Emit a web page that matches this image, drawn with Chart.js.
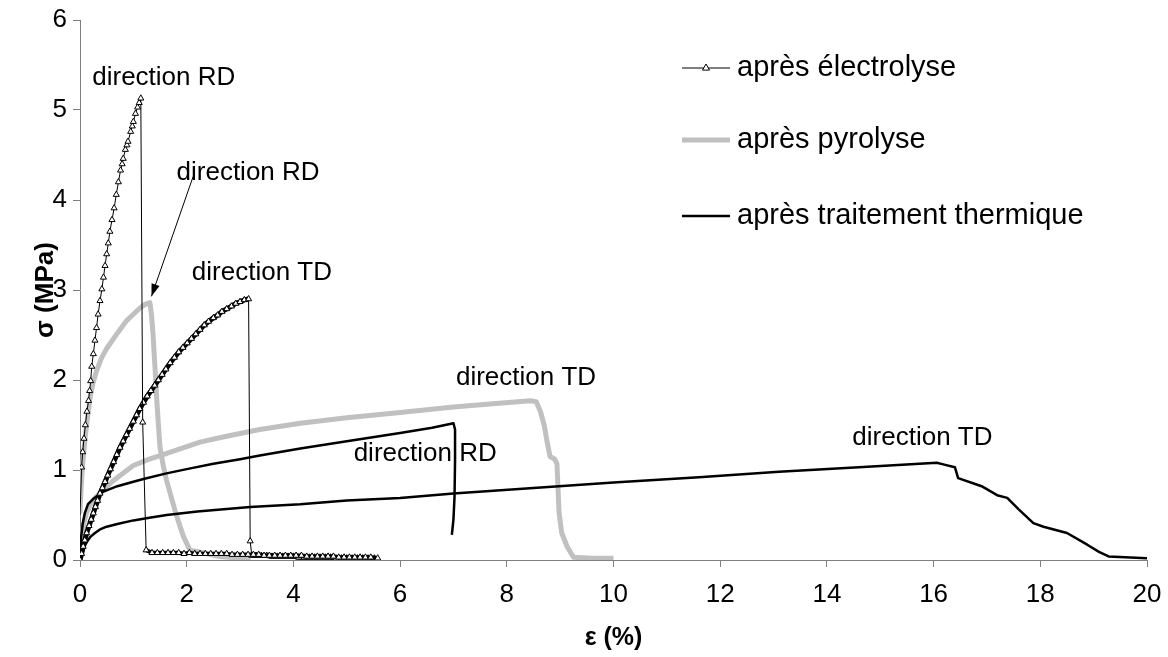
<!DOCTYPE html>
<html>
<head>
<meta charset="utf-8">
<script src="https://cdn.jsdelivr.net/npm/chart.js@4.4.1/dist/chart.umd.min.js"></script>
<style>
  html, body { margin: 0; padding: 0; background: #ffffff; }
  #wrap { position: relative; width: 1168px; height: 657px; }
</style>
</head>
<body>
<div id="wrap"><canvas id="c"></canvas></div>
<script>
// ---------- axis ticks ----------
const xTickValues = [0, 2, 4, 6, 8, 10, 12, 14, 16, 18, 20];
const yTickValues = [0, 1, 2, 3, 4, 5, 6];
const xTitle = 'ε (%)';
const yTitle = 'σ (MPa)';

// ---------- series labels ----------
const seriesNames = ['après électrolyse', 'après pyrolyse', 'après traitement thermique'];

// ---------- après électrolyse, direction RD (incl. post-rupture tail) ----------
const electroRD_x = [0, 0.03, 0.05, 0.075, 0.1, 0.13, 0.16, 0.18, 0.2, 0.22, 0.25, 0.28, 0.31, 0.34, 0.375, 0.41, 0.44, 0.47, 0.5, 0.53, 0.56, 0.6, 0.64, 0.68, 0.72, 0.76, 0.79, 0.81, 0.85, 0.88, 0.9, 0.95, 0.98, 1.0, 1.04, 1.08, 1.11, 1.14, 1.175, 1.24,
  1.35, 1.45, 1.55, 1.65, 1.75, 1.85, 1.95, 2.05, 2.15, 2.25, 2.35, 2.45, 2.55, 2.65, 2.75, 2.85, 2.95, 3.05, 3.15, 3.25, 3.35, 3.45, 3.55, 3.65, 3.75, 3.85, 3.95, 4.05, 4.15, 4.25, 4.35, 4.45, 4.55, 4.65, 4.75, 4.85, 4.95, 5.05, 5.15, 5.25, 5.35, 5.45, 5.58];
const electroRD_y = [0.5, 1.03, 1.2, 1.35, 1.5, 1.65, 1.77, 1.88, 1.99, 2.15, 2.29, 2.44, 2.58, 2.73, 2.88, 3.01, 3.14, 3.27, 3.4, 3.52, 3.65, 3.78, 3.91, 4.06, 4.2, 4.33, 4.4, 4.46, 4.56, 4.61, 4.65, 4.76, 4.82, 4.87, 4.96, 5.03, 5.08, 5.13, 1.53, 0.11,
  0.08, 0.08, 0.08, 0.08, 0.08, 0.08, 0.07, 0.08, 0.07, 0.07, 0.07, 0.07, 0.07, 0.07, 0.07, 0.06, 0.06, 0.06, 0.06, 0.06, 0.06, 0.05, 0.05, 0.05, 0.05, 0.05, 0.05, 0.05, 0.05, 0.04, 0.04, 0.04, 0.04, 0.04, 0.04, 0.03, 0.03, 0.03, 0.03, 0.03, 0.03, 0.03, 0.02];

// ---------- après électrolyse, direction TD ----------
const electroTD_x = [0, 0.03, 0.06, 0.09, 0.125, 0.17, 0.21, 0.25, 0.29, 0.33, 0.375, 0.42, 0.47, 0.52, 0.57, 0.63, 0.69, 0.75, 0.81, 0.87, 0.93, 1.0, 1.06, 1.12, 1.19, 1.26, 1.33, 1.4, 1.47, 1.54, 1.61, 1.69, 1.77, 1.85, 1.93, 2.01, 2.09, 2.17, 2.25, 2.33, 2.41, 2.5, 2.58, 2.66, 2.75, 2.84, 2.92, 3.0, 3.08, 3.16, 3.19, 3.22,
  3.3, 3.4, 3.5, 3.6, 3.7, 3.8, 3.9, 4.0, 4.1, 4.2, 4.3, 4.4, 4.5, 4.6, 4.7, 4.8, 4.9, 5.0, 5.1, 5.2, 5.3, 5.4, 5.52];
const electroTD_y = [0, 0.07, 0.15, 0.22, 0.3, 0.38, 0.45, 0.52, 0.59, 0.66, 0.74, 0.8, 0.87, 0.94, 1.01, 1.09, 1.17, 1.25, 1.32, 1.39, 1.46, 1.54, 1.61, 1.68, 1.75, 1.82, 1.88, 1.94, 2.0, 2.06, 2.12, 2.19, 2.25, 2.31, 2.36, 2.41, 2.46, 2.51, 2.56, 2.61, 2.65, 2.69, 2.72, 2.76, 2.79, 2.82, 2.85, 2.87, 2.89, 2.9, 0.21, 0.05,
  0.05, 0.05, 0.05, 0.04, 0.04, 0.04, 0.04, 0.04, 0.03, 0.03, 0.03, 0.03, 0.03, 0.03, 0.03, 0.02, 0.02, 0.02, 0.02, 0.02, 0.02, 0.02, 0.02];

// ---------- après pyrolyse, direction RD ----------
const pyroRD_x = [0, 0.02, 0.05, 0.1, 0.15, 0.19, 0.25, 0.31, 0.4, 0.5, 0.56, 0.7, 0.875, 1.0, 1.125, 1.22, 1.31, 1.34, 1.37, 1.39, 1.42, 1.44, 1.47, 1.5, 1.56, 1.62, 1.7, 1.78, 1.86, 1.94, 2.06, 2.3, 2.6, 3.0, 3.2];
const pyroRD_y = [0.52, 0.8, 1.07, 1.38, 1.62, 1.81, 1.98, 2.1, 2.24, 2.35, 2.4, 2.52, 2.66, 2.73, 2.8, 2.84, 2.86, 2.73, 2.5, 2.29, 2.0, 1.77, 1.5, 1.25, 1.05, 0.89, 0.72, 0.55, 0.4, 0.26, 0.11, 0.08, 0.04, 0.02, 0.02];

// ---------- après pyrolyse, direction TD ----------
const pyroTD_x = [0, 0.03, 0.07, 0.12, 0.2, 0.3, 0.44, 0.6, 0.8, 1.0, 1.3, 1.6, 2.0, 2.25, 2.7, 3.37, 4.13, 5.0, 6.0, 7.0, 7.8, 8.44, 8.55, 8.63, 8.7, 8.76, 8.81, 8.9, 8.94, 8.96, 8.98, 9.03, 9.13, 9.25, 9.6, 10.0];
const pyroTD_y = [0, 0.25, 0.4, 0.52, 0.62, 0.7, 0.78, 0.87, 0.96, 1.05, 1.12, 1.18, 1.26, 1.31, 1.37, 1.45, 1.52, 1.58, 1.64, 1.7, 1.74, 1.77, 1.76, 1.65, 1.5, 1.3, 1.15, 1.12, 1.07, 0.8, 0.52, 0.3, 0.15, 0.03, 0.02, 0.02];

// ---------- après traitement thermique, direction RD ----------
const thermRD_x = [0, 0.02, 0.05, 0.09, 0.15, 0.25, 0.44, 0.7, 1.0, 1.19, 1.6, 2.0, 2.5, 3.0, 3.37, 4.13, 5.0, 6.0, 6.6, 7.0, 7.03, 7.03, 7.02, 7.0, 6.97];
const thermRD_y = [0, 0.25, 0.4, 0.52, 0.62, 0.68, 0.76, 0.82, 0.87, 0.9, 0.96, 1.01, 1.07, 1.12, 1.16, 1.24, 1.32, 1.41, 1.47, 1.52, 1.45, 1.1, 0.7, 0.45, 0.28];

// ---------- après traitement thermique, direction TD ----------
const thermTD_x = [0, 0.03, 0.06, 0.1, 0.15, 0.2, 0.28, 0.375, 0.5, 0.7, 1.0, 1.3, 1.625, 2.2, 3.19, 4.13, 5.0, 6.0, 7.0, 8.5, 10.0, 11.6, 13.1, 14.6, 16.06, 16.2, 16.4, 16.46, 16.9, 17.19, 17.38, 17.6, 17.87, 18.06, 18.5, 18.88, 19.1, 19.28, 20.0];
const thermTD_y = [0, 0.05, 0.1, 0.17, 0.22, 0.26, 0.3, 0.34, 0.37, 0.4, 0.44, 0.47, 0.5, 0.54, 0.59, 0.62, 0.66, 0.69, 0.74, 0.8, 0.86, 0.92, 0.98, 1.03, 1.08, 1.06, 1.03, 0.91, 0.82, 0.72, 0.69, 0.56, 0.41, 0.37, 0.3, 0.17, 0.09, 0.04, 0.02];

// ---------- annotations ----------
const noteTexts = ['direction RD', 'direction RD', 'direction TD', 'direction TD', 'direction RD', 'direction TD'];
const noteX = [1.57, 3.15, 3.41, 8.36, 6.47, 15.79];
const noteY = [5.36, 4.30, 3.19, 2.02, 1.18, 1.36];
const arrowFrom = [2.12, 4.26];
const arrowTo = [1.34, 2.93];

const zip = (xs, ys) => xs.map((x, i) => ({ x: x, y: ys[i] }));

const BLACK = '#000000';
const GREY = '#c0c0c0';
const AXIS = '#808080';
const FONT = '"Liberation Sans", Arial, Helvetica, sans-serif';

const electroStyle = {
  borderColor: BLACK, borderWidth: 1, pointStyle: 'triangle',
  pointBackgroundColor: '#ffffff', pointBorderColor: BLACK, pointBorderWidth: 1,
  showLine: true, tension: 0, order: 1
};

const datasets = [
  Object.assign({}, electroStyle, {
    label: seriesNames[0], data: zip(electroRD_x, electroRD_y),
    pointRadius: ctx => (ctx.dataIndex === 0 ? 0 : 3.5),
    segment: { borderWidth: ctx => (ctx.p0DataIndex >= 39 ? 4 : 1) }
  }),
  Object.assign({}, electroStyle, {
    label: seriesNames[0] + ' TD', data: zip(electroTD_x, electroTD_y),
    pointRadius: 3.5,
    segment: { borderWidth: ctx => ((ctx.p0DataIndex < 49 || ctx.p0DataIndex >= 51) ? 5 : 1) }
  }),
  { label: seriesNames[1], data: zip(pyroRD_x, pyroRD_y), borderColor: GREY, borderWidth: 5, pointRadius: 0, showLine: true, tension: 0, order: 5, borderJoinStyle: 'round' },
  { label: seriesNames[1] + ' TD', data: zip(pyroTD_x, pyroTD_y), borderColor: GREY, borderWidth: 5, pointRadius: 0, showLine: true, tension: 0, order: 5, borderJoinStyle: 'round' },
  { label: seriesNames[2], data: zip(thermRD_x, thermRD_y), borderColor: BLACK, borderWidth: 2.5, pointRadius: 0, showLine: true, tension: 0, order: 2, borderJoinStyle: 'round' },
  { label: seriesNames[2] + ' TD', data: zip(thermTD_x, thermTD_y), borderColor: BLACK, borderWidth: 2.5, pointRadius: 0, showLine: true, tension: 0, order: 2, borderJoinStyle: 'round' }
];

const notesPlugin = {
  id: 'notes',
  afterDatasetsDraw(chart) {
    const ctx = chart.ctx, xs = chart.scales.x, ys = chart.scales.y;
    ctx.save();
    ctx.fillStyle = BLACK;
    ctx.font = '26px ' + FONT;
    ctx.textAlign = 'center';
    ctx.textBaseline = 'middle';
    noteTexts.forEach((t, i) => ctx.fillText(t, xs.getPixelForValue(noteX[i]), ys.getPixelForValue(noteY[i])));
    // arrow
    const x0 = xs.getPixelForValue(arrowFrom[0]), y0 = ys.getPixelForValue(arrowFrom[1]);
    const x1 = xs.getPixelForValue(arrowTo[0]), y1 = ys.getPixelForValue(arrowTo[1]);
    ctx.strokeStyle = BLACK; ctx.lineWidth = 1;
    ctx.beginPath(); ctx.moveTo(x0, y0); ctx.lineTo(x1, y1); ctx.stroke();
    const a = Math.atan2(y1 - y0, x1 - x0), L = 13, w = 0.33;
    ctx.beginPath();
    ctx.moveTo(x1, y1);
    ctx.lineTo(x1 - L * Math.cos(a - w), y1 - L * Math.sin(a - w));
    ctx.lineTo(x1 - L * Math.cos(a + w), y1 - L * Math.sin(a + w));
    ctx.closePath(); ctx.fill();

    // legend
    const lx0 = 682, lx1 = 730, tx = 737;
    const rows = [68, 140, 216];
    ctx.textAlign = 'left';
    ctx.font = '29px ' + FONT;
    // row 1
    ctx.lineWidth = 1; ctx.strokeStyle = BLACK;
    ctx.beginPath(); ctx.moveTo(lx0, rows[0]); ctx.lineTo(lx1, rows[0]); ctx.stroke();
    const cx = (lx0 + lx1) / 2, r = 3.5;
    ctx.beginPath();
    ctx.moveTo(cx, rows[0] - r * 1.15);
    ctx.lineTo(cx + r, rows[0] + r * 0.6);
    ctx.lineTo(cx - r, rows[0] + r * 0.6);
    ctx.closePath(); ctx.fillStyle = '#ffffff'; ctx.fill(); ctx.stroke();
    ctx.fillStyle = BLACK;
    ctx.fillText(seriesNames[0], tx, rows[0]);
    // row 2
    ctx.lineWidth = 5; ctx.strokeStyle = GREY;
    ctx.beginPath(); ctx.moveTo(lx0, rows[1]); ctx.lineTo(lx1, rows[1]); ctx.stroke();
    ctx.fillText(seriesNames[1], tx, rows[1]);
    // row 3
    ctx.lineWidth = 2.5; ctx.strokeStyle = BLACK;
    ctx.beginPath(); ctx.moveTo(lx0, rows[2]); ctx.lineTo(lx1, rows[2]); ctx.stroke();
    ctx.fillText(seriesNames[2], tx, rows[2]);
    ctx.restore();
  }
};

new Chart(document.getElementById('c'), {
  type: 'scatter',
  data: { datasets: datasets },
  options: {
    responsive: true,
    maintainAspectRatio: false,
    animation: false,
    events: [],
    layout: { padding: { top: 20, right: 21, left: 0, bottom: 0 } },
    plugins: { legend: { display: false }, tooltip: { enabled: false } },
    scales: {
      x: {
        type: 'linear', min: 0, max: 20,
        afterBuildTicks: s => { s.ticks = xTickValues.map(v => ({ value: v })); },
        afterFit: s => { s.height = 97; s.paddingRight = 0; s.paddingLeft = 0; },
        border: { color: AXIS, width: 1 },
        grid: { drawOnChartArea: false, drawTicks: true, tickLength: 7, color: AXIS, tickWidth: 1 },
        ticks: { color: BLACK, font: { family: FONT, size: 26 }, padding: 12, maxRotation: 0 },
        title: { display: true, text: xTitle, color: BLACK, font: { family: FONT, size: 25, weight: 'bold' }, padding: { top: 0, bottom: 4 } }
      },
      y: {
        type: 'linear', min: 0, max: 6,
        afterBuildTicks: s => { s.ticks = yTickValues.map(v => ({ value: v })); },
        afterFit: s => { s.width = 80; s.paddingTop = 0; s.paddingBottom = 0; },
        border: { color: AXIS, width: 1 },
        grid: { drawOnChartArea: false, drawTicks: true, tickLength: 7, color: AXIS, tickWidth: 1 },
        ticks: { color: BLACK, font: { family: FONT, size: 26 }, padding: 6 },
        title: { display: true, text: yTitle, color: BLACK, font: { family: FONT, size: 26, weight: 'bold' }, padding: { top: 30, bottom: 0 } }
      }
    }
  },
  plugins: [notesPlugin]
});
</script>
</body>
</html>
